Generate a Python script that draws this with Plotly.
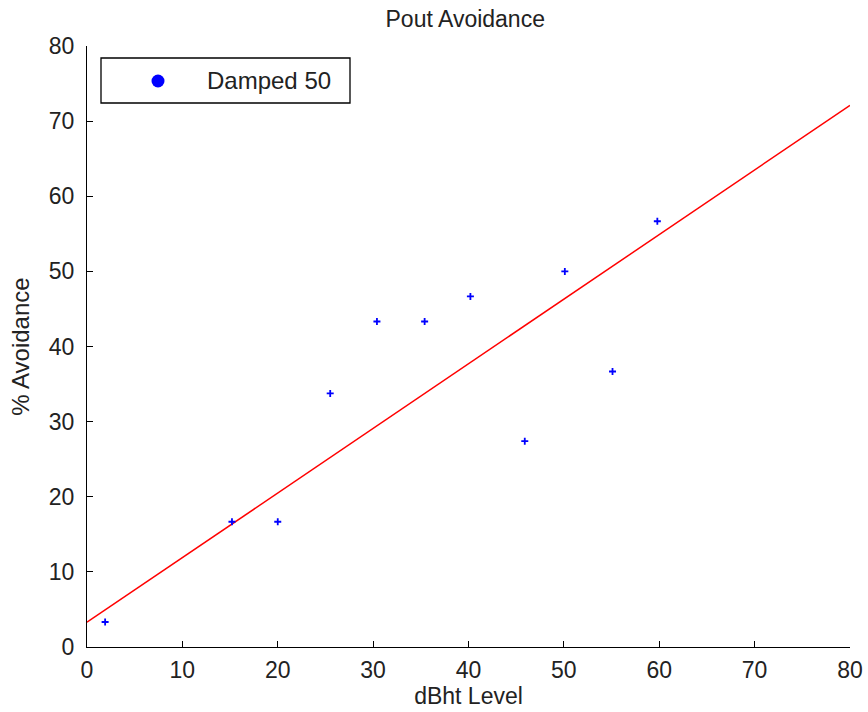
import plotly.graph_objects as go

# Measured dBht levels and the resulting avoidance percentages
dbht_level = [1.9, 15.2, 20.0, 25.5, 30.4, 35.4, 40.2, 45.9, 50.1, 55.1, 59.8]
avoidance_pct = [3.33, 16.67, 16.67, 33.75, 43.33, 43.33, 46.67, 27.4, 50.0, 36.67, 56.67]

# Linear trend line endpoints
trend_x = [0, 80]
trend_y = [3.3, 72.1]

series_name = "Damped 50"
tick_vals = [0, 10, 20, 30, 40, 50, 60, 70, 80]

font_family = "Liberation Sans, Arial, sans-serif"
text_color = "#222"

fig = go.Figure()

fig.add_trace(go.Scatter(
    x=trend_x, y=trend_y, mode="lines",
    line=dict(color="#ff0000", width=1.5),
    showlegend=False, hoverinfo="skip",
))

fig.add_trace(go.Scatter(
    x=dbht_level, y=avoidance_pct, mode="markers",
    marker=dict(symbol="cross-thin", size=5, color="#0000ff",
                line=dict(color="#0000ff", width=1.8)),
    name=series_name, showlegend=False,
))

axis_common = dict(
    showline=True, linecolor="black", linewidth=1.3,
    ticks="inside", ticklen=6, tickcolor="black", tickwidth=1.3,
    showgrid=False, zeroline=False, mirror=False, automargin=False,
    tickfont=dict(size=23, color=text_color, family=font_family),
    tickvals=tick_vals,
)

fig.update_layout(
    width=868, height=712,
    margin=dict(l=87, r=18, t=46, b=65),
    paper_bgcolor="white", plot_bgcolor="white",
    title=dict(text="Pout Avoidance", x=0.536, xanchor="center",
               y=0.973, yanchor="middle",
               font=dict(size=23, color=text_color, family=font_family)),
    xaxis=dict(range=[0, 80], ticklabelstandoff=2,
               title=dict(text="dBht Level", standoff=2,
                          font=dict(size=23, color=text_color, family=font_family)),
               **axis_common),
    yaxis=dict(range=[0, 80], ticklabelstandoff=7,
               title=dict(text="% Avoidance", standoff=12,
                          font=dict(size=24, color=text_color, family=font_family)),
               **axis_common),
    showlegend=False,
)

# Legend box with a large marker and label
fig.add_shape(type="rect", xref="paper", yref="paper",
              x0=(101 - 87) / 763, x1=(350 - 87) / 763,
              y0=(647 - 103) / 601, y1=(647 - 58) / 601,
              line=dict(color="black", width=1.3), fillcolor="white", layer="above")
fig.add_shape(type="circle", xref="paper", yref="paper",
              xsizemode="pixel", ysizemode="pixel",
              xanchor=(158 - 87) / 763, yanchor=(647 - 81) / 601,
              x0=-6.5, x1=6.5, y0=-6.5, y1=6.5,
              fillcolor="#0000ff", line=dict(color="#0000ff", width=0), layer="above")
fig.add_annotation(xref="paper", yref="paper",
                   x=(205 - 87) / 763, y=(647 - 81) / 601,
                   xanchor="left", yanchor="middle", showarrow=False,
                   text=series_name,
                   font=dict(size=24, color=text_color, family=font_family))

fig.write_html("out.html")
